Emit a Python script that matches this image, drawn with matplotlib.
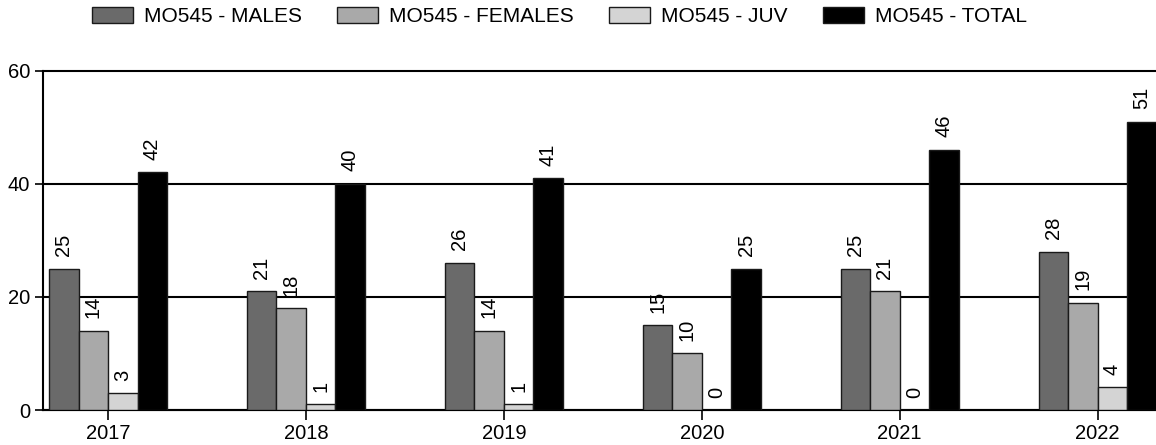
import matplotlib
matplotlib.use("Agg")
import matplotlib.pyplot as plt
import numpy as np

years = ["2017", "2018", "2019", "2020", "2021", "2022"]
series_names = ["MO545 - MALES", "MO545 - FEMALES", "MO545 - JUV", "MO545 - TOTAL"]
males = [25, 21, 26, 15, 25, 28]
females = [14, 18, 14, 10, 21, 19]
juv = [3, 1, 1, 0, 0, 4]
total = [42, 40, 41, 25, 46, 51]
colors = ["#6a6a6a", "#a9a9a9", "#d4d4d4", "#000000"]

plt.rcParams['font.family'] = ['Liberation Sans', 'DejaVu Sans']
FS = 14.5
fig = plt.figure(figsize=(11.56, 4.45), dpi=100)
W, H = 1156, 445
left, right, top, bottom = 42.7, 1157, 70.7, 410
ax = fig.add_axes([left / W, 1 - bottom / H, (right - left) / W, (bottom - top) / H])

x = np.arange(len(years))
bw = 0.149
data = [males, females, juv, total]
for i, (vals, c, name) in enumerate(zip(data, colors, series_names)):
    pos = x + (i - 1.5) * bw
    ax.bar(pos, vals, width=bw, color=c, edgecolor="#1a1a1a", linewidth=1.0, label=name, zorder=3)
    for p, v in zip(pos, vals):
        ax.annotate(str(v), (p, v), xytext=(0, 9), textcoords="offset points",
                    rotation=90, ha="center", va="bottom", fontsize=FS, zorder=4)

ax.set_xlim(-0.33, 5.30)
ax.set_ylim(0, 60)
ax.set_yticks([0, 20, 40, 60])
ax.set_xticks(x)
ax.set_xticklabels(years)
ax.yaxis.grid(True, color="black", linewidth=1.5, zorder=0)
for gl in ax.get_ygridlines():
    gl.set_clip_on(False)
ax.set_axisbelow(True)
for s in ["top", "right"]:
    ax.spines[s].set_visible(False)
ax.spines["left"].set_linewidth(1.5)
ax.spines["bottom"].set_linewidth(1.5)
ax.tick_params(axis="both", labelsize=FS, width=1.2, direction="out")
ax.tick_params(axis="y", length=6, pad=3)
ax.tick_params(axis="x", length=7, pad=3)

fig.legend(loc="center", bbox_to_anchor=(559.5 / W, 1 - 16.5 / H), ncol=4, frameon=False, fontsize=15,
           handlelength=1.97, handleheight=0.82, columnspacing=1.68, handletextpad=0.53,
           borderaxespad=0, borderpad=0)

fig.savefig("out.png", dpi=100)
